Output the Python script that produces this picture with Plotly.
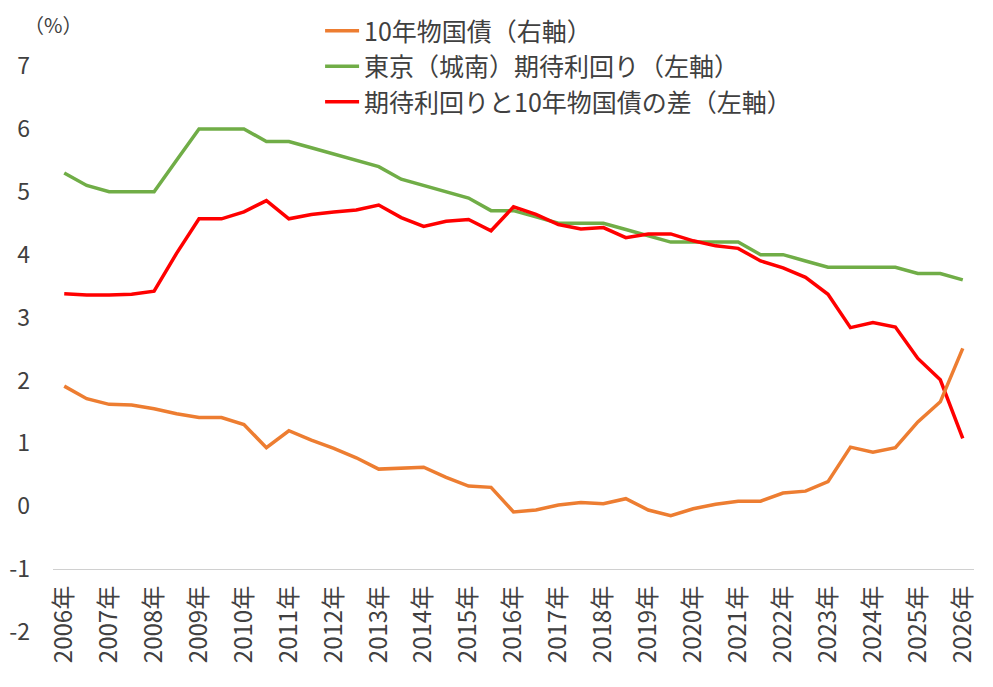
import plotly.graph_objects as go

# Semi-annual survey periods (April / October)
periods = [
    "2006年4月", "2006年10月", "2007年4月", "2007年10月", "2008年4月", "2008年10月",
    "2009年4月", "2009年10月", "2010年4月", "2010年10月", "2011年4月", "2011年10月",
    "2012年4月", "2012年10月", "2013年4月", "2013年10月", "2014年4月", "2014年10月",
    "2015年4月", "2015年10月", "2016年4月", "2016年10月", "2017年4月", "2017年10月",
    "2018年4月", "2018年10月", "2019年4月", "2019年10月", "2020年4月", "2020年10月",
    "2021年4月", "2021年10月", "2022年4月", "2022年10月", "2023年4月", "2023年10月",
    "2024年4月", "2024年10月", "2025年4月", "2025年10月", "2026年4月",
]

# 10年物国債（右軸）
jgb10 = [
    1.91, 1.71, 1.62, 1.61, 1.55, 1.47, 1.41, 1.41, 1.30, 0.93,
    1.20, 1.05, 0.92, 0.77, 0.59, 0.60, 0.62, 0.46, 0.32, 0.30,
    -0.09, -0.06, 0.02, 0.06, 0.04, 0.12, -0.06, -0.15, -0.04, 0.03,
    0.08, 0.08, 0.21, 0.24, 0.39, 0.94, 0.86, 0.93, 1.34, 1.66,
    2.51,
]

# 東京（城南）期待利回り（左軸）
expected_yield = [
    5.3, 5.1, 5.0, 5.0, 5.0, 5.5, 6.0, 6.0, 6.0, 5.8,
    5.8, 5.7, 5.6, 5.5, 5.4, 5.2, 5.1, 5.0, 4.9, 4.7,
    4.7, 4.6, 4.5, 4.5, 4.5, 4.4, 4.3, 4.2, 4.2, 4.2,
    4.2, 4.0, 4.0, 3.9, 3.8, 3.8, 3.8, 3.8, 3.7, 3.7,
    3.6,
]

# 期待利回りと10年物国債の差（左軸）
spread = [
    3.38, 3.36, 3.36, 3.37, 3.42, 4.02, 4.57, 4.57, 4.68, 4.86,
    4.57, 4.64, 4.68, 4.71, 4.79, 4.59, 4.45, 4.53, 4.56, 4.38,
    4.76, 4.64, 4.48, 4.41, 4.43, 4.27, 4.33, 4.33, 4.22, 4.14,
    4.10, 3.90, 3.79, 3.64, 3.37, 2.84, 2.92, 2.85, 2.35, 2.01,
    1.08,
]

y_ticks = [-2, -1, 0, 1, 2, 3, 4, 5, 6, 7]
y_tick_labels = ["-2", "-1", "0", "1", "2", "3", "4", "5", "6", "7"]

tick_periods = [p for p in periods if p.endswith("年4月")]
tick_labels = [p.split("年")[0] + "年" for p in tick_periods]

FONT = "Noto Sans CJK JP"
TXT = "#404040"
LW = 3.5

# page body has an 8px default margin, so the figure is 8px smaller
W, H = 985, 679

fig = go.Figure()
fig.add_trace(go.Scatter(
    x=periods, y=jgb10, name="10年物国債（右軸）", mode="lines",
    line=dict(color="#ED7D31", width=LW), yaxis="y2",
))
fig.add_trace(go.Scatter(
    x=periods, y=expected_yield, name="東京（城南）期待利回り（左軸）", mode="lines",
    line=dict(color="#70AD47", width=LW),
))
fig.add_trace(go.Scatter(
    x=periods, y=spread, name="期待利回りと10年物国債の差（左軸）", mode="lines",
    line=dict(color="#FF0000", width=LW),
))

fig.update_layout(
    width=W, height=H,
    margin=dict(l=45, r=19, t=58, b=55, autoexpand=False),
    paper_bgcolor="white", plot_bgcolor="white",
    font=dict(family=FONT, size=22, color=TXT),
    showlegend=True,
    legend=dict(
        x=0.29, y=1 + 3 / H, xanchor="left", yanchor="top", yref="container",
        bgcolor="rgba(0,0,0,0)", font=dict(size=25, color=TXT),
        tracegroupgap=0, itemwidth=34,
    ),
    xaxis=dict(
        type="category", categoryorder="array", categoryarray=periods,
        range=[-0.5, len(periods) - 0.5],
        tickmode="array", tickvals=tick_periods, ticktext=tick_labels,
        tickangle=-90, showgrid=False, zeroline=False,
        showline=True, linecolor="#D0D0D0", linewidth=1.3,
        anchor="free", position=1 / 9, ticks="", automargin=False,
        ticklabelstandoff=6,
        tickfont=dict(size=24, color=TXT),
    ),
    yaxis=dict(
        range=[-2, 7], tickmode="array", tickvals=y_ticks, ticktext=y_tick_labels,
        showgrid=False, zeroline=False, showline=False,
        ticks="", ticklabelstandoff=22, automargin=False,
        tickfont=dict(size=23, color=TXT),
    ),
    yaxis2=dict(
        range=[-2, 7], overlaying="y", side="right",
        showgrid=False, zeroline=False, showline=False,
        showticklabels=False, ticks="", automargin=False,
    ),
    annotations=[dict(
        text="（%）", xref="paper", yref="paper",
        x=0.0, y=1.0 + (58 - 17) / 566, xanchor="center", yanchor="middle",
        showarrow=False, font=dict(size=20, color=TXT),
    )],
)

fig.write_html("out.html")
